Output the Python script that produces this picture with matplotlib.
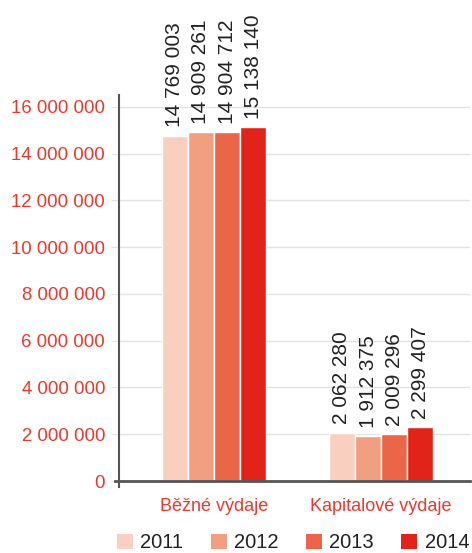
import matplotlib
matplotlib.use("Agg")
import matplotlib.pyplot as plt
from matplotlib.patches import Patch
import numpy as np

plt.rcParams['font.family'] = ['Liberation Sans', 'DejaVu Sans']

categories = ["Běžné výdaje", "Kapitalové výdaje"]
years = ["2011", "2012", "2013", "2014"]
values = {
    "2011": [14769003, 2062280],
    "2012": [14909261, 1912375],
    "2013": [14904712, 2009296],
    "2014": [15138140, 2299407],
}
colors = ["#f9d0bf", "#f29e80", "#eb6548", "#e2231a"]
yticks = list(range(0, 16000001, 2000000))

def fmt(v):
    return f"{v:,}".replace(",", " ")

fig = plt.figure(figsize=(4.72, 5.53), dpi=100)
ax = fig.add_axes([0.252, 0.1193, 0.744, 0.709])

x = np.arange(len(categories))
w = 0.156
red = "#e8392f"
for i, y in enumerate(years):
    pos = x + (i - 1.5) * w
    bars = ax.bar(pos, values[y], width=w, color=colors[i], edgecolor="white", linewidth=1, zorder=3)
    for b, v in zip(bars, values[y]):
        ax.text(b.get_x() + b.get_width() / 2, v + 360000, fmt(v), rotation=90,
                ha="center", va="bottom", fontsize=15, color="#222222")

ax.set_xlim(-0.569, 1.533)
ax.set_ylim(-257000, 16510000)
ax.set_yticks(yticks)
ax.set_yticklabels([fmt(t) for t in yticks], fontsize=13.4, color=red)
ax.grid(axis="y", color="#e2e2e2", linewidth=1, zorder=0)
ax.tick_params(axis="y", length=6, color="#e2e2e2", pad=4)
ax.set_xticks(x)
ax.set_xticklabels(categories, fontsize=13, color=red)
ax.tick_params(axis="x", length=0, pad=8)
for s in ["top", "right", "bottom"]:
    ax.spines[s].set_visible(False)
ax.spines["left"].set_color("#555555")
ax.spines["left"].set_linewidth(1.5)
ax.axhline(0, xmin=-0.012, xmax=1, color="#555555", linewidth=2, zorder=4, clip_on=False)

handles = [Patch(facecolor=c, edgecolor="none") for c in colors]
fig.legend(handles, years, loc="center left", bbox_to_anchor=(117 / 472, 1 - 543 / 553), ncol=4,
           frameon=False, borderpad=0, borderaxespad=0,
           fontsize=14.5, handlelength=0.8, handleheight=0.8, handletextpad=0.35, columnspacing=1.37,
           labelcolor="#222222")

fig.savefig("out.png", dpi=100)
